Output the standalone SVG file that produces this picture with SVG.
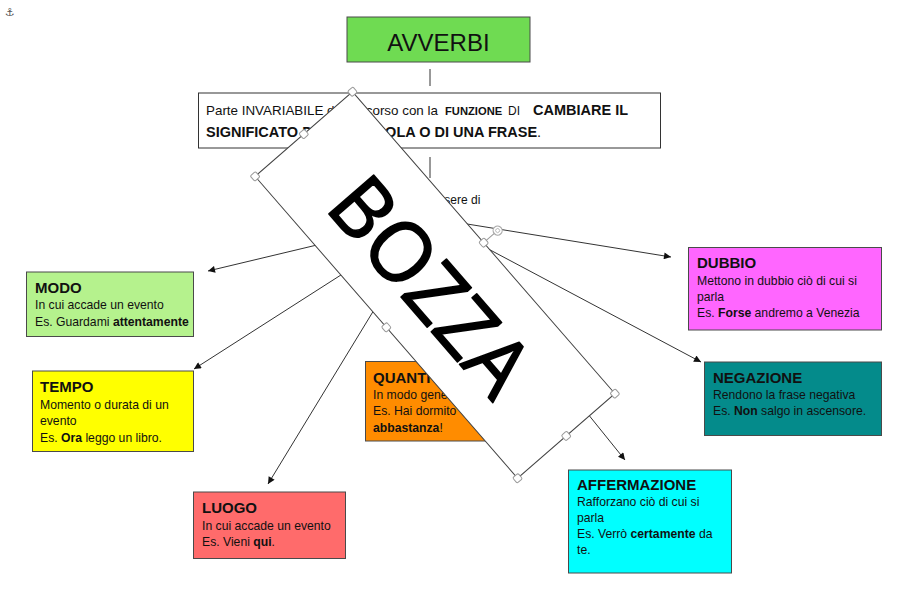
<svg xmlns="http://www.w3.org/2000/svg" width="900" height="601" viewBox="0 0 900 601">
<defs>
<style>
.box{stroke:#4a4a4a;stroke-width:1}
.t{font-family:"Liberation Sans",Arial,sans-serif;fill:#111}
.h{font-size:15px;font-weight:bold}
.b{font-size:12.2px}
.bb{font-weight:bold}
.conn{stroke:#333;stroke-width:1;fill:none}
.handle{fill:#fff;stroke:#999;stroke-width:1}
</style>
<marker id="arr" viewBox="0 0 10 10" refX="10" refY="5" markerWidth="9" markerHeight="7" markerUnits="userSpaceOnUse" orient="auto">
<path d="M0,0 L10,5 L0,10 z" fill="#111"/>
</marker>
</defs>
<rect width="900" height="601" fill="#fff"/>
<text x="5" y="16" font-family="DejaVu Sans,sans-serif" font-size="11" fill="#555">⚓</text>

<g id="avverbi">
<rect class="box" x="347" y="17" width="183" height="45" fill="#6fdb52"/>
<text class="t" x="438.5" y="51" font-size="24" text-anchor="middle">AVVERBI</text>
</g>

<g id="definizione">
<rect x="198.5" y="93" width="462" height="55" fill="#fff" stroke="#333" stroke-width="1"/>
<text class="t" y="115"><tspan x="206" font-size="13.4">Parte INVARIABILE del discorso con la </tspan><tspan x="445" font-size="11.2" font-weight="bold">FUNZIONE</tspan><tspan x="508" font-size="12">DI</tspan><tspan x="533" font-size="14.5" font-weight="bold">CAMBIARE IL</tspan></text>
<text class="t" y="137"><tspan x="206" font-size="14.5" font-weight="bold">SIGNIFICATO DI UNA PAROLA O DI UNA FRASE</tspan><tspan font-size="14.5">.</tspan></text>
</g>

<g id="possono">
<text class="t" x="431" y="204" font-size="12" text-anchor="middle">Possono essere di</text>
</g>

<g id="modo">
<rect class="box" x="26.5" y="272" width="167" height="64.5" fill="#b5f28d"/>
<text class="t h" x="35" y="293">MODO</text>
<text class="t b" x="35" y="309">In cui accade un evento</text>
<text class="t b" x="35" y="326">Es. Guardami <tspan class="bb">attentamente</tspan></text>
</g>

<g id="tempo">
<rect class="box" x="32.5" y="371" width="161" height="80.5" fill="#ffff00"/>
<text class="t h" x="40" y="392">TEMPO</text>
<text class="t b" x="40" y="409">Momento o durata di un</text>
<text class="t b" x="40" y="425">evento</text>
<text class="t b" x="40" y="442">Es. <tspan class="bb">Ora</tspan> leggo un libro.</text>
</g>

<g id="luogo">
<rect class="box" x="193.5" y="492" width="152" height="66.5" fill="#ff6b6b"/>
<text class="t h" x="202" y="513">LUOGO</text>
<text class="t b" x="202" y="530">In cui accade un evento</text>
<text class="t b" x="202" y="546">Es. Vieni <tspan class="bb">qui</tspan>.</text>
</g>

<g id="quantita">
<rect class="box" x="365.5" y="361.5" width="135" height="79.5" fill="#ff8c00"/>
<text class="t h" x="373" y="383">QUANTITÀ</text>
<text class="t b" x="373" y="399">In modo generico</text>
<text class="t b" x="373" y="415">Es. Hai dormito</text>
<text class="t b" x="373" y="432"><tspan class="bb">abbastanza</tspan>!</text>
</g>

<g id="dubbio">
<rect class="box" x="688.5" y="247.5" width="193" height="82.5" fill="#ff66ff"/>
<text class="t h" x="697" y="268">DUBBIO</text>
<text class="t b" x="697" y="285">Mettono in dubbio ciò di cui si</text>
<text class="t b" x="697" y="301">parla</text>
<text class="t b" x="697" y="317">Es. <tspan class="bb">Forse</tspan> andremo a Venezia</text>
</g>

<g id="negazione">
<rect class="box" x="704.5" y="362" width="177" height="73.5" fill="#048b8b"/>
<text class="t h" x="713" y="383">NEGAZIONE</text>
<text class="t b" x="713" y="399">Rendono la frase negativa</text>
<text class="t b" x="713" y="415">Es. <tspan class="bb">Non</tspan> salgo in ascensore.</text>
</g>

<g id="affermazione">
<rect class="box" x="568.5" y="470" width="163" height="103" fill="#00ffff"/>
<text class="t h" x="577" y="490" font-size="14.7">AFFERMAZIONE</text>
<text class="t b" x="577" y="506">Rafforzano ciò di cui si</text>
<text class="t b" x="577" y="522">parla</text>
<text class="t b" x="577" y="538">Es. Verrò <tspan class="bb">certamente</tspan> da</text>
<text class="t b" x="577" y="554">te.</text>
</g>

<g id="connectors">
<line class="conn" x1="430" y1="69" x2="430" y2="86"/>
<line class="conn" x1="430" y1="157" x2="430" y2="178"/>
<line class="conn" x1="430" y1="218" x2="208" y2="271" marker-end="url(#arr)"/>
<line class="conn" x1="430" y1="218" x2="194" y2="369" marker-end="url(#arr)"/>
<line class="conn" x1="430" y1="218" x2="268" y2="484" marker-end="url(#arr)"/>
<line class="conn" x1="430" y1="218" x2="671" y2="257" marker-end="url(#arr)"/>
<line class="conn" x1="430" y1="218" x2="701" y2="362" marker-end="url(#arr)"/>
<line class="conn" x1="430" y1="218" x2="625" y2="460" marker-end="url(#arr)"/>
</g>

<g id="bozza" transform="translate(435 285) rotate(49)">
<rect x="-200" y="-64.5" width="400" height="129" fill="#fff" stroke="#444" stroke-width="1"/>
<text x="-131" y="33.5" font-family="Open Sans,sans-serif" font-size="83" fill="#000" stroke="#000" stroke-width="1.6" stroke-linejoin="round" textLength="258" lengthAdjust="spacingAndGlyphs">BOZZA</text>
<line x1="0" y1="-64.5" x2="0" y2="-79" stroke="#999" stroke-width="1"/>
<circle cx="0" cy="-83" r="4.5" fill="#fff" stroke="#aaa" stroke-width="1.2"/>
<circle cx="0" cy="-83" r="2" fill="none" stroke="#aaa" stroke-width="0.8"/>
<rect class="handle" x="-203.5" y="-68" width="7" height="7" rx="1.5"/>
<rect class="handle" x="196.5" y="-68" width="7" height="7" rx="1.5"/>
<rect class="handle" x="-203.5" y="61" width="7" height="7" rx="1.5"/>
<rect class="handle" x="196.5" y="61" width="7" height="7" rx="1.5"/>
<rect class="handle" x="-203.5" y="-3.5" width="7" height="7" rx="1.5"/>
<rect class="handle" x="196.5" y="-3.5" width="7" height="7" rx="1.5"/>
<rect class="handle" x="-3.5" y="-68" width="7" height="7" rx="1.5"/>
<rect class="handle" x="-3.5" y="61" width="7" height="7" rx="1.5"/>
</g>
</svg>
